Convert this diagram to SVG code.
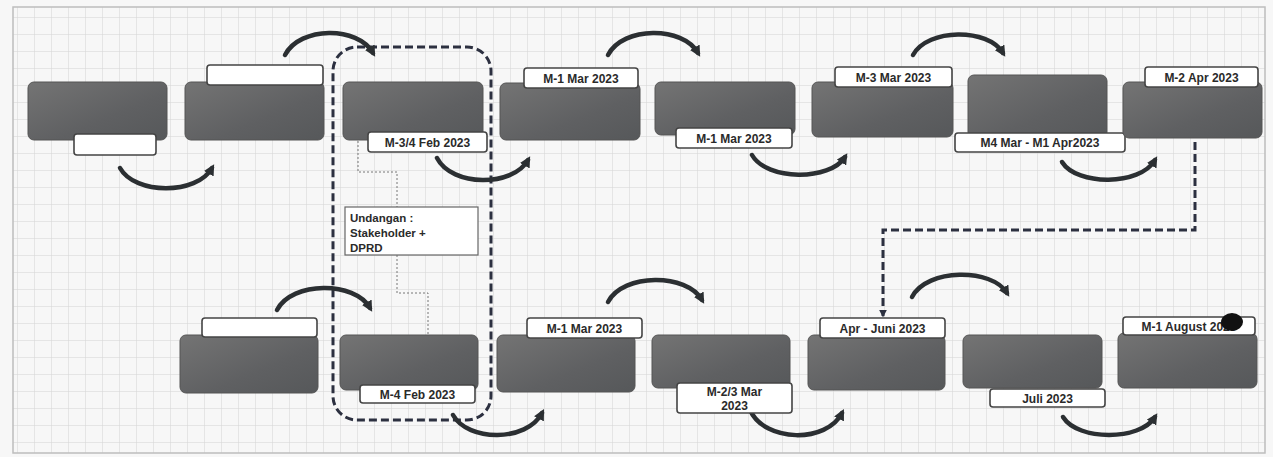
<svg xmlns="http://www.w3.org/2000/svg" width="1273" height="457" viewBox="0 0 1273 457">
<defs>
<pattern id="grid" width="17" height="17" patternUnits="userSpaceOnUse">
<path d="M17 0 L0 0 0 17" fill="none" stroke="#d4d4d4" stroke-width="1"/>
</pattern>
<linearGradient id="ng" x1="0" y1="0" x2="1" y2="1">
<stop offset="0" stop-color="#747474"/>
<stop offset="0.6" stop-color="#5f6062"/>
<stop offset="1" stop-color="#56585a"/>
</linearGradient>
<marker id="ah" viewBox="0 0 10 10" refX="6" refY="5" markerWidth="11" markerHeight="11" markerUnits="userSpaceOnUse" orient="auto">
<path d="M0 0 L10 5 L0 10 Z" fill="#2b2f32"/>
</marker>
<marker id="ah2" viewBox="0 0 10 10" refX="8" refY="5" markerWidth="8" markerHeight="8" markerUnits="userSpaceOnUse" orient="auto">
<path d="M0 0 L10 5 L0 10 Z" fill="#2c3040"/>
</marker>
</defs>
<style>
.node{fill:url(#ng);stroke:#555;stroke-width:1}
.lbl{fill:#ffffff;stroke:#444;stroke-width:1.6}
.lt{font-family:"Liberation Sans",Arial,sans-serif;font-weight:bold;font-size:12px;fill:#2a2a2a;text-anchor:middle}
.ut{font-family:"Liberation Sans",Arial,sans-serif;font-weight:bold;font-size:11.5px;fill:#2a2a2a}
.arc{fill:none;stroke:#2b2f32;stroke-width:4.5;stroke-linecap:round;marker-end:url(#ah)}
.dash{fill:none;stroke:#2c3040;stroke-width:3;stroke-dasharray:8 4}
.dot{fill:none;stroke:#777;stroke-width:1;stroke-dasharray:2 2}
</style>
<rect x="0" y="0" width="1273" height="457" fill="#f7f7f7"/>
<rect x="13" y="7" width="1252" height="446" fill="url(#grid)" stroke="#bdbdbd" stroke-width="1.5"/>

<g id="connectors">
<rect x="333" y="47" width="158" height="373" rx="24" class="dash"/>
<path d="M1195 142 L1195 230 L883 230 L883 316" class="dash" marker-end="url(#ah2)"/>
<path d="M358 141 L358 172 L397 172 L397 207" class="dot"/>
<path d="M397 255 L397 293 L428 293 L428 334" class="dot"/>
<path d="M120 168 C135 195 197 195 212 168" class="arc"/>
<path d="M285 55 C300 26 358 26 373 53" class="arc"/>
<path d="M437 158 C452 187 513 187 528 160" class="arc"/>
<path d="M608 55 C623 26 683 26 698 53" class="arc"/>
<path d="M752 155 C767 181 830 181 845 157" class="arc"/>
<path d="M913 55 C928 28 988 28 1003 53" class="arc"/>
<path d="M1062 162 C1077 186 1140 186 1155 160" class="arc"/>
<path d="M277 310 C292 281 355 281 370 308" class="arc"/>
<path d="M453 415 C468 442 527 442 542 413" class="arc"/>
<path d="M608 302 C623 273 687 273 702 300" class="arc"/>
<path d="M750 410 C765 443 827 443 842 413" class="arc"/>
<path d="M912 297 C927 268 992 268 1007 293" class="arc"/>
<path d="M1063 417 C1078 441 1140 441 1155 417" class="arc"/>
</g>

<g id="n1"><rect x="28" y="82" width="139" height="58" rx="6" class="node"/><rect x="74" y="134" width="82" height="21" rx="3" class="lbl"/></g>
<g id="n2"><rect x="185" y="82" width="139" height="58" rx="6" class="node"/><rect x="207" y="65" width="116" height="20" rx="3" class="lbl"/></g>
<g id="n3"><rect x="343" y="82" width="140" height="58" rx="6" class="node"/><rect x="368" y="132" width="119" height="20" rx="3" class="lbl"/><text x="427.5" y="146.5" class="lt">M-3/4 Feb 2023</text></g>
<g id="n4"><rect x="500" y="83" width="140" height="57" rx="6" class="node"/><rect x="524" y="68" width="114" height="20" rx="3" class="lbl"/><text x="581" y="82.5" class="lt">M-1 Mar 2023</text></g>
<g id="n5"><rect x="655" y="82" width="140" height="53" rx="6" class="node"/><rect x="676" y="128" width="116" height="20" rx="3" class="lbl"/><text x="734" y="142.5" class="lt">M-1 Mar 2023</text></g>
<g id="n6"><rect x="812" y="82" width="141" height="55" rx="6" class="node"/><rect x="835" y="67" width="117" height="20" rx="3" class="lbl"/><text x="893.5" y="81.5" class="lt">M-3 Mar 2023</text></g>
<g id="n7"><rect x="968" y="75" width="139" height="63" rx="6" class="node"/><rect x="955" y="133" width="170" height="19" rx="3" class="lbl"/><text x="1040" y="147" class="lt">M4 Mar  - M1 Apr2023</text></g>
<g id="n8"><rect x="1123" y="82" width="139" height="56" rx="6" class="node"/><rect x="1145" y="67" width="113" height="20" rx="3" class="lbl"/><text x="1201.5" y="81.5" class="lt">M-2 Apr 2023</text></g>

<g id="undangan"><rect x="345" y="207" width="133" height="48" fill="#ffffff" stroke="#666" stroke-width="1.2"/>
<text x="350" y="222" class="ut">Undangan :</text>
<text x="350" y="237" class="ut">Stakeholder +</text>
<text x="350" y="252" class="ut">DPRD</text></g>

<g id="n9"><rect x="180" y="335" width="138" height="58" rx="6" class="node"/><rect x="202" y="318" width="115" height="19" rx="3" class="lbl"/></g>
<g id="n10"><rect x="340" y="335" width="138" height="55" rx="6" class="node"/><rect x="360" y="385" width="115" height="18" rx="3" class="lbl"/><text x="417.5" y="398.5" class="lt">M-4 Feb 2023</text></g>
<g id="n11"><rect x="497" y="335" width="138" height="57" rx="6" class="node"/><rect x="527" y="318" width="115" height="20" rx="3" class="lbl"/><text x="584.5" y="332.5" class="lt">M-1 Mar 2023</text></g>
<g id="n12"><rect x="652" y="335" width="138" height="53" rx="6" class="node"/><rect x="677" y="383" width="115" height="30" rx="3" class="lbl"/><text x="734.5" y="396" class="lt">M-2/3 Mar</text><text x="734.5" y="409.5" class="lt">2023</text></g>
<g id="n13"><rect x="808" y="335" width="137" height="55" rx="6" class="node"/><rect x="820" y="318" width="125" height="20" rx="3" class="lbl"/><text x="882.5" y="332.5" class="lt">Apr - Juni 2023</text></g>
<g id="n14"><rect x="963" y="335" width="139" height="53" rx="6" class="node"/><rect x="990" y="389" width="115" height="18" rx="3" class="lbl"/><text x="1047.5" y="402.5" class="lt">Juli 2023</text></g>
<g id="n15"><rect x="1118" y="333" width="139" height="55" rx="6" class="node"/><rect x="1123" y="317" width="132" height="18" rx="3" class="lbl"/><text x="1189" y="330.5" class="lt">M-1 August 2023</text>
<ellipse cx="1232" cy="322" rx="11" ry="9" fill="#111"/></g>
</svg>
